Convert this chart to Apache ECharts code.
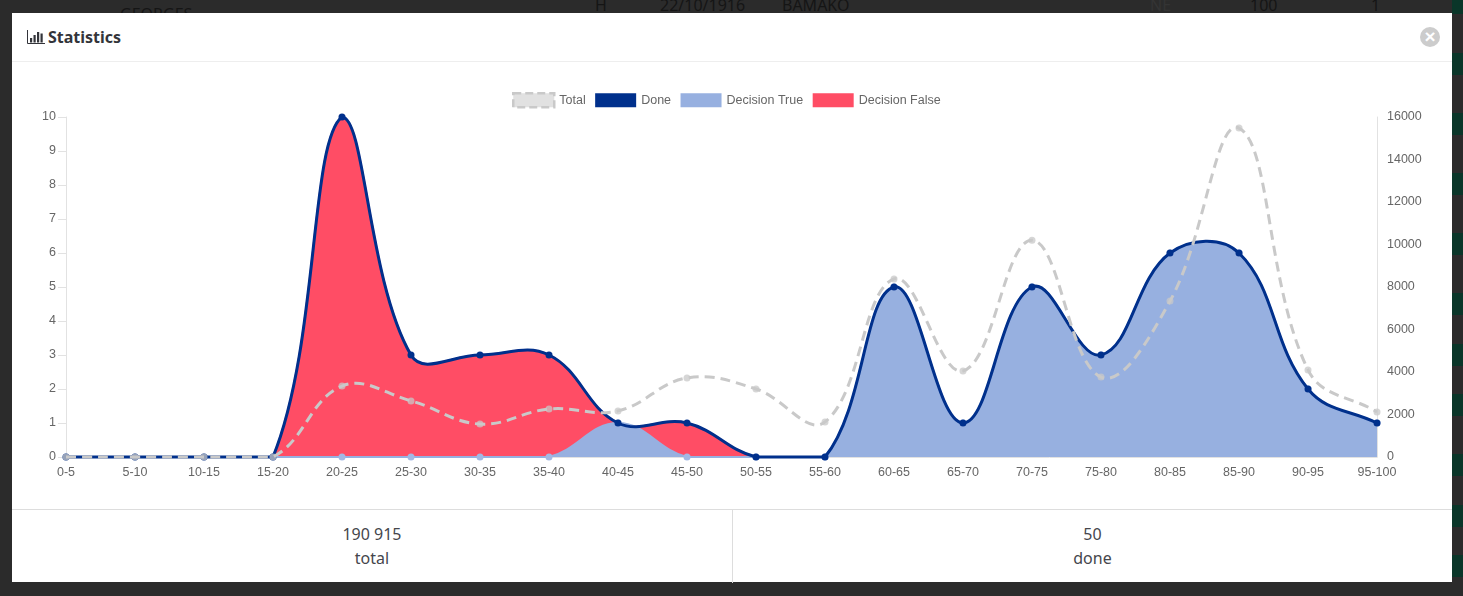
<!DOCTYPE html>
<html>
<head>
<meta charset="utf-8">
<title>Statistics</title>
<script src="https://cdn.jsdelivr.net/npm/echarts@6/dist/echarts.min.js"></script>
<style>
html,body{margin:0;padding:0;width:1463px;height:596px;overflow:hidden;background:#2b2b2b;font-family:"Noto Sans",sans-serif}
.ghost{position:absolute;color:#151515;font-size:16px;line-height:20px;white-space:nowrap}
.patch{position:absolute;left:1452px;width:11px;background:#0a3629}
#modal{position:absolute;left:12px;top:13px;width:1440px;height:569px;background:#fff}
#head{position:absolute;left:0;top:0;width:100%;height:48px;border-bottom:1px solid #eeeeee}
#title{position:absolute;left:36px;top:12px;font-weight:700;font-size:16px;line-height:24px;color:#33343a}
#icon{position:absolute;left:15px;top:17px}
#close{position:absolute;left:1408px;top:14px;width:20px;height:20px;border-radius:50%;background:#cccccc;color:#fff;font:700 19px/20px "Liberation Sans",sans-serif;text-align:center}
#foot{position:absolute;left:0;top:496px;width:100%;height:73px;border-top:1px solid #dddddd;color:#45464c;font-size:16px;line-height:24px;text-align:center}
.cell{position:absolute;top:0;height:73px;padding-top:12px;box-sizing:border-box}
#chart{position:absolute;left:0;top:0;width:1463px;height:596px}
</style>
</head>
<body>
<div class="ghost" style="left:120px;top:4px">GEORGES</div>
<div class="ghost" style="left:595px;top:-5px">H</div>
<div class="ghost" style="left:660px;top:-5px">22/10/1916</div>
<div class="ghost" style="left:782px;top:-5px">BAMAKO</div>
<div class="ghost" style="left:1150px;top:-5px;color:#343434">NE</div>
<div class="ghost" style="left:1250px;top:-5px">100</div>
<div class="ghost" style="left:1371px;top:-5px">1</div>
<div class="patch" style="top:0;height:14px"></div>
<div class="patch" style="top:53px;height:22px"></div>
<div class="patch" style="top:113px;height:22px"></div>
<div class="patch" style="top:173px;height:22px"></div>
<div class="patch" style="top:233px;height:22px"></div>
<div class="patch" style="top:293px;height:22px"></div>
<div class="patch" style="top:344px;height:22px"></div>
<div class="patch" style="top:394px;height:22px"></div>
<div class="patch" style="top:454px;height:22px"></div>
<div class="patch" style="top:505px;height:22px"></div>
<div class="patch" style="top:555px;height:22px"></div>
<div id="modal">
  <div id="head">
    <svg id="icon" width="18" height="14" viewBox="0 0 18 14"><path d="M0.5 0V13.5H18" fill="none" stroke="#33343a" stroke-width="1"/><rect x="3" y="8" width="2.2" height="4.5" fill="#33343a"/><rect x="6.5" y="5" width="2.2" height="7.5" fill="#33343a"/><rect x="10" y="2" width="2.2" height="10.5" fill="#33343a"/><rect x="13.5" y="3.5" width="2.2" height="9" fill="#33343a"/></svg>
    <div id="title">Statistics</div>
    <div id="close">×</div>
  </div>
  <div id="foot">
    <div class="cell" style="left:0;width:721px;border-right:1px solid #dddddd">190 915<br>total</div>
    <div class="cell" style="left:721px;width:719px">50<br>done</div>
  </div>
</div>
<div id="chart"></div>
<script>
const categories = ['0-5','5-10','10-15','15-20','20-25','25-30','30-35','35-40','40-45','45-50','50-55','55-60','60-65','65-70','70-75','75-80','80-85','85-90','90-95','95-100'];
const totalValues = [0,0,0,0,3340,2640,1550,2260,2170,3720,3200,1650,8380,4050,10200,3760,7340,15480,4100,2120];
const doneValues = [0,0,0,0,10,3,3,3,1,1,0,0,5,1,5,3,6,6,2,1];
const decisionTrueValues = [0,0,0,0,0,0,0,0,1,0,0,0,5,1,5,3,6,6,2,1];
const decisionFalseValues = [0,0,0,0,10,3,3,3,1,1,0,0];
const leftTicks = {min:0,max:10,interval:1};
const rightTicks = {min:0,max:16000,interval:2000};

const TENSION = 0.4;
function clamp(v,a,b){return Math.max(a,Math.min(b,v));}
// Spline through the axis-mapped points, tension 0.4, control points capped to the plot area
function curvePath(values, api, yMax){
  const pts = values.map((v,i)=>api.coord([i,v]));
  const yTop = api.coord([0,yMax])[1], yBottom = api.coord([0,0])[1];
  const cps = pts.map((p,i)=>{
    const a = pts[Math.max(i-1,0)], b = pts[Math.min(i+1,pts.length-1)];
    const d1 = Math.hypot(p[0]-a[0],p[1]-a[1]), d2 = Math.hypot(b[0]-p[0],b[1]-p[1]);
    const sum = d1+d2 || 1;
    const fa = TENSION*d1/sum, fb = TENSION*d2/sum;
    return {
      prev:[p[0]-fa*(b[0]-a[0]), clamp(p[1]-fa*(b[1]-a[1]),yTop,yBottom)],
      next:[p[0]+fb*(b[0]-a[0]), clamp(p[1]+fb*(b[1]-a[1]),yTop,yBottom)]
    };
  });
  let d = 'M'+pts[0][0]+' '+pts[0][1];
  for(let i=1;i<pts.length;i++){
    d += ' C'+cps[i-1].next[0]+' '+cps[i-1].next[1]+' '+cps[i].prev[0]+' '+cps[i].prev[1]+' '+pts[i][0]+' '+pts[i][1];
  }
  return {d, first:pts[0], last:pts[pts.length-1], yBottom};
}
function curveSeries(name, values, yAxisIndex, yMax, look){
  return {
    name, type:'custom', xAxisIndex:0, yAxisIndex, silent:true, animation:false,
    clip:false, encode:{x:0,y:1},
    itemStyle:{color:look.line},
    data: values.map((v,i)=>[i,v]),
    renderItem(params, api){
      const i = params.dataIndex, children = [];
      if(i===0){
        const c = curvePath(values, api, yMax);
        if(look.fill){
          children.push({type:'path',shape:{pathData:c.d+' L'+c.last[0]+' '+c.yBottom+' L'+c.first[0]+' '+c.yBottom+' Z'},style:{fill:look.fill,stroke:null}});
        }
        children.push({type:'path',shape:{pathData:c.d},style:{fill:null,stroke:look.line,lineWidth:look.width,lineDash:look.dash||null,lineCap:'butt',lineJoin:'round'}});
      }
      const p = api.coord([i,values[i]]);
      children.push({type:'circle',shape:{cx:p[0],cy:p[1],r:look.r},style:{fill:look.point,stroke:null}});
      return {type:'group',children};
    }
  };
}
const C = {total:'#c9c9c9',totalPoint:'rgba(200,200,200,0.75)',done:'#00308c',tr:'#97b0e0',fa:'#ff4d65'};
const textStyle = {color:'#666',fontFamily:'"Liberation Sans",Arial,sans-serif',fontSize:12.5};
const chart = echarts.init(document.getElementById('chart'),null,{renderer:'canvas'});
chart.setOption({
  animation:false,
  backgroundColor:'transparent',
  grid:{left:66,right:86,top:117,height:340,containLabel:false},
  legend:{
    left:512,top:92,padding:0,icon:'rect',itemWidth:41,itemHeight:14,itemGap:9.5,selectedMode:false,
    textStyle,
    data:[
      {name:'Total',itemStyle:{color:'rgba(200,200,200,0.55)',borderColor:C.total,borderWidth:2.5,borderType:[8,4]}},
      {name:'Done',itemStyle:{color:C.done,borderWidth:0}},
      {name:'Decision True',itemStyle:{color:C.tr,borderWidth:0}},
      {name:'Decision False',itemStyle:{color:C.fa,borderWidth:0}}
    ]
  },
  xAxis:{type:'category',data:categories,boundaryGap:false,
    axisLine:{onZero:false,lineStyle:{color:'#e2e2e2'}},axisTick:{show:false},
    axisLabel:{...textStyle,margin:9,interval:0,hideOverlap:false},splitLine:{show:false}},
  yAxis:[
    {type:'value',...leftTicks,position:'left',
      axisLine:{show:true,lineStyle:{color:'#e2e2e2'}},axisTick:{show:true,length:8,lineStyle:{color:'#e2e2e2'}},
      axisLabel:{...textStyle,margin:10,formatter:String},splitLine:{show:false}},
    {type:'value',...rightTicks,position:'right',
      axisLine:{show:true,lineStyle:{color:'#e2e2e2'}},axisTick:{show:false},
      axisLabel:{...textStyle,margin:10,formatter:String},splitLine:{show:false}}
  ],
  series:[
    curveSeries('Decision False',decisionFalseValues,0,10,{fill:C.fa,line:C.fa,point:C.fa,width:2,r:3}),
    curveSeries('Decision True',decisionTrueValues,0,10,{fill:C.tr,line:C.tr,point:'#a3b8e4',width:2,r:3.5}),
    curveSeries('Done',doneValues,0,10,{line:C.done,point:C.done,width:3,r:3.5}),
    curveSeries('Total',totalValues,1,16000,{line:C.total,point:C.totalPoint,width:3,dash:[10,6],r:3.5})
  ]
});
</script>
</body>
</html>
